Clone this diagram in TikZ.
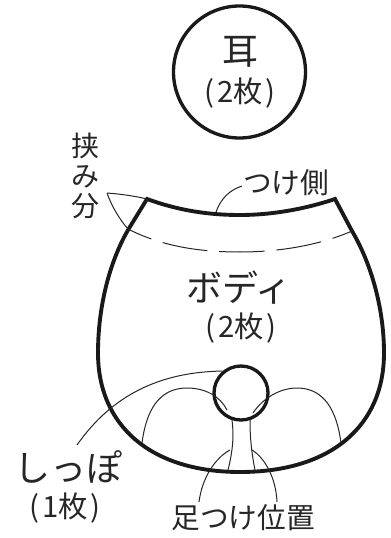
\documentclass[tikz,border=0pt]{standalone}
\usepackage{fontspec}
\setmainfont{Noto Sans CJK JP}
\usepackage{tikz}
\usetikzlibrary{positioning}
\newcommand{\maisu}[1]{(\kern2pt #1枚\kern2pt)}

\begin{document}
\begin{tikzpicture}[x=0.75pt,y=-0.75pt,
                    piece line/.style={line width=2.9pt,draw=black!90},
                    round line/.style={line width=2.5pt,draw=black!90,circle,inner sep=0pt},
                    thin line/.style={line width=0.75pt,draw=black!85},
                    big label/.style={font=\fontsize{27}{27}\selectfont,text=black!85,inner sep=0pt},
                    mid label/.style={font=\fontsize{22}{22}\selectfont,text=black!85,inner sep=0pt},
                    small label/.style={font=\fontsize{21.5}{21.5}\selectfont,text=black!85,inner sep=0pt}]
                \useasboundingbox (0,0) rectangle (391,538);
                % ear
                \node[round line,minimum size=99pt] (ear) at (239.5,72) {};
                \node[big label] (earname) at (240,52) {耳};
                \node[mid label] (earcount) at (240,93) {\maisu{2}};
                % body
                \coordinate (TL) at (147,199);
                \coordinate (TR) at (335,199);
                \draw[piece line,line join=miter]
                    (TL) .. controls (180,211) and (210,215) .. (240,215)
                    .. controls (272,215) and (305,209) .. (TR)
                    -- (352,231) .. controls (372,265) and (384,310) .. (384,353)
                    .. controls (384,425) and (332,472) .. (240,472)
                    .. controls (150,472) and (98,425) .. (98,353)
                    .. controls (98,310) and (108,265) .. (128,230)
                    -- cycle;
                \draw[thin line,dash pattern=on 34pt off 9pt,dash phase=15pt]
                    (128,229) .. controls (165,248) and (205,252) .. (240,252)
                    .. controls (280,252) and (320,245) .. (352,231);
                % tail
                \node[round line,minimum size=40.5pt] (tail) at (241,393) {};
                \coordinate (legL) at (142,443);
                \coordinate (legR) at (341,443);
                \coordinate (stemL) at (228,470);
                \coordinate (stemR) at (255,470);
                \draw[thin line] (legL) .. controls (146,412) and (158,388) .. (187,388)
                    .. controls (205,388) and (220,396) .. (227,410);
                \draw[thin line] (legR) .. controls (337,412) and (325,388) .. (297,388)
                    .. controls (280,388) and (263,398) .. (253,413);
                \draw[thin line] (232,420) .. controls (234,435) and (233,450) .. (stemL);
                \draw[thin line] (250,420) .. controls (250,435) and (251,450) .. (stemR);
                % labels
                \node[small label,align=center,font=\fontsize{21}{22.5}\selectfont] (hasami) at (85,176) {挟\\み\\分};
                \coordinate (hasamiend) at (107,193);
                \draw[thin line] (hasamiend) .. controls (120,194) and (135,196) .. (TL);
                \draw[thin line] (hasamiend) .. controls (112,207) and (120,220) .. (128,229);
                \node[small label] (seamname) at (286,183) {つけ側};
                \draw[thin line] (216,212) .. controls (221,198) and (230,190) .. (242,186);
                \node[big label] (bodyname) at (239,288) {ボディ};
                \node[mid label] (bodycount) at (241,328) {\maisu{2}};
                \node[big label] (tailname) at (68,467) {しっぽ};
                \node[mid label] (tailcount) at (65,508) {\maisu{1}};
                \draw[thin line] (77,445) .. controls (112,395) and (160,372) .. (tail.130);
                \node[small label] (legname) at (243,518) {足つけ位置};
                \draw[thin line] (199,502) .. controls (202,478) and (215,458) .. (230,450);
                \draw[thin line] (277,502) .. controls (276,478) and (265,458) .. (252,450);
                \end{tikzpicture}
\end{document}
